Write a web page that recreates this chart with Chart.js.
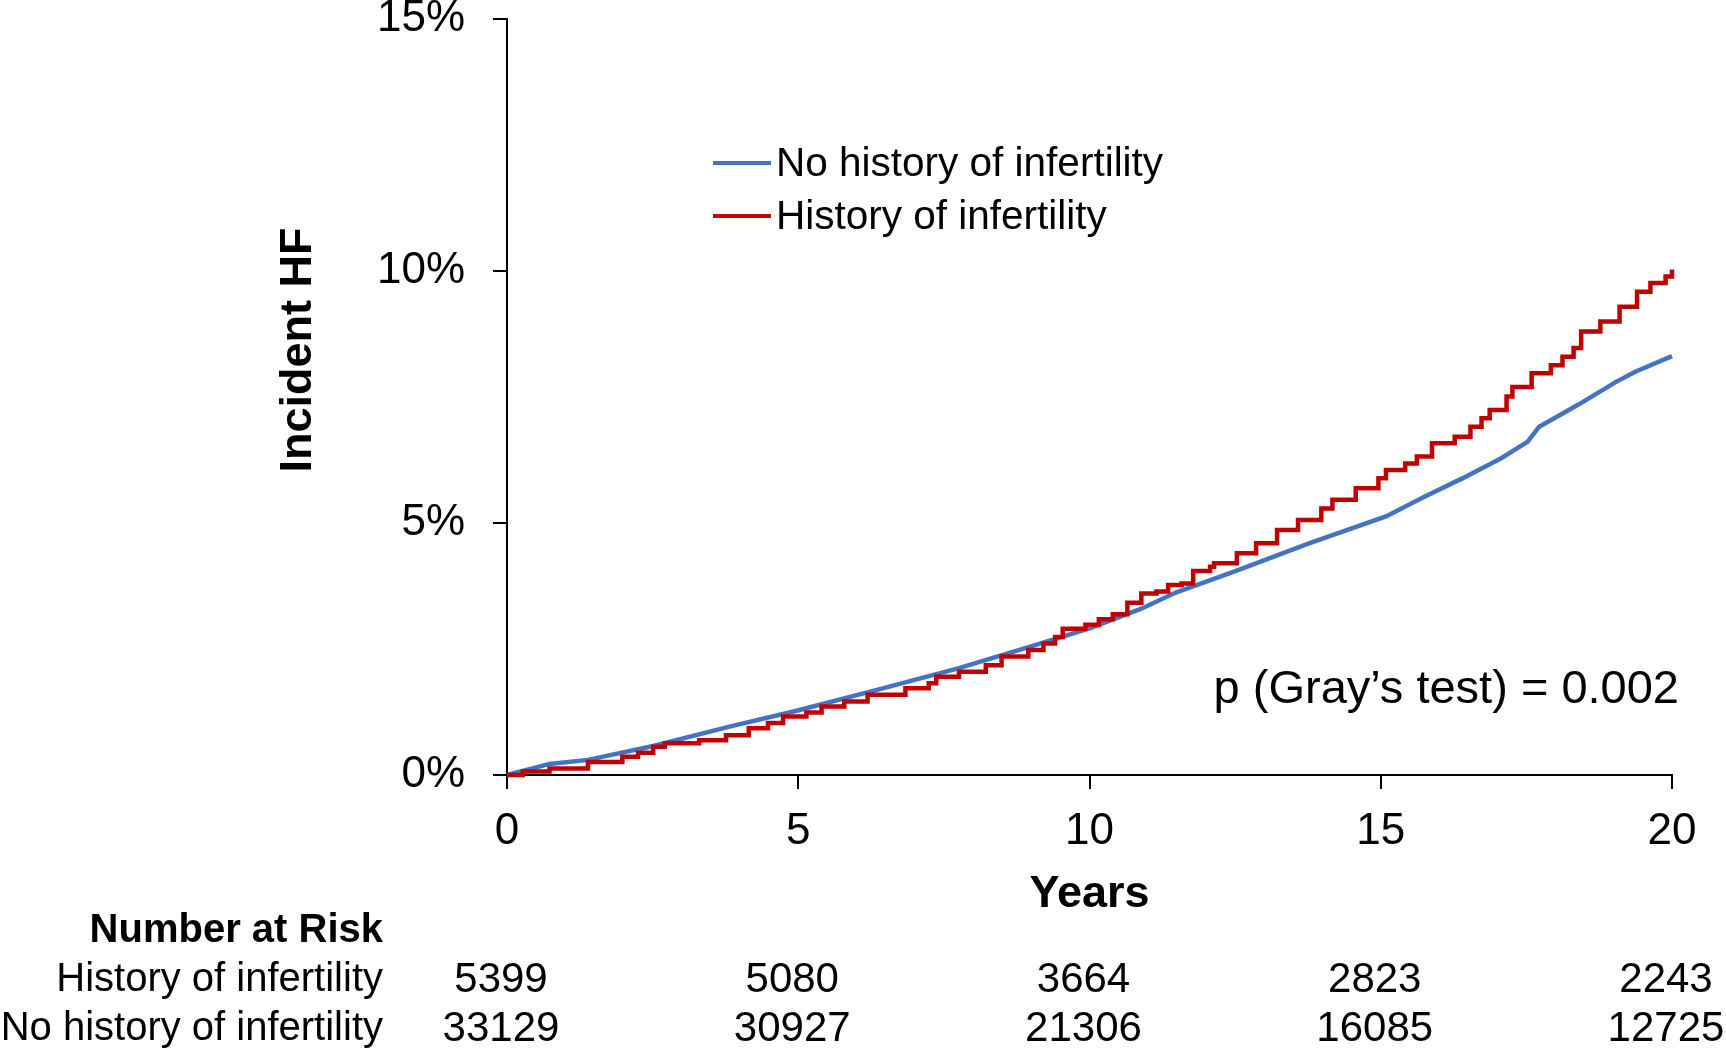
<!DOCTYPE html>
<html>
<head>
<meta charset="utf-8">
<script src="https://cdn.jsdelivr.net/npm/chart.js@4.4.1/dist/chart.umd.min.js"></script>
<style>
  html, body { margin: 0; padding: 0; background: #fff; }
  #wrap { width: 1726px; height: 1049px; }
</style>
</head>
<body>
<div id="wrap"><canvas id="hf-chart" width="1726" height="1049"></canvas></div>
<script>
// cumulative incidence of HF
const noHistYears = [0, 0.73, 1.39, 2.51, 3.82, 4.99, 6.45, 7.76, 9.08, 10.0, 10.89, 11.48, 12.47, 13.78, 15.09, 15.75, 16.41, 17.06, 17.52, 17.72, 18.38, 19.04, 19.37, 20];
const noHistValues = [0, 0.22, 0.30, 0.575, 0.96, 1.28, 1.72, 2.12, 2.58, 2.91, 3.30, 3.62, 4.03, 4.60, 5.13, 5.52, 5.89, 6.28, 6.61, 6.91, 7.34, 7.80, 8.00, 8.31];

const histYears = [0, 0.27, 0.73, 1.39, 1.98, 2.25, 2.51, 2.71, 3.30, 3.76, 4.15, 4.48, 4.74, 5.14, 5.40, 5.79, 6.19, 6.84, 7.24, 7.37, 7.76, 8.22, 8.49, 8.95, 9.21, 9.41, 9.54, 9.93, 10.16, 10.40, 10.65, 10.89, 11.15, 11.35, 11.58, 11.78, 12.07, 12.14, 12.53, 12.86, 13.22, 13.58, 13.98, 14.17, 14.57, 14.96, 15.09, 15.42, 15.62, 15.88, 16.27, 16.54, 16.73, 16.87, 17.16, 17.26, 17.59, 17.92, 18.12, 18.31, 18.44, 18.77, 19.10, 19.40, 19.63, 19.89, 20];
const histValues = [0, 0.07, 0.13, 0.26, 0.36, 0.44, 0.56, 0.63, 0.69, 0.79, 0.93, 1.03, 1.16, 1.24, 1.36, 1.46, 1.59, 1.72, 1.82, 1.95, 2.05, 2.18, 2.35, 2.48, 2.61, 2.74, 2.90, 2.98, 3.09, 3.19, 3.42, 3.60, 3.64, 3.77, 3.80, 4.05, 4.13, 4.20, 4.40, 4.60, 4.86, 5.06, 5.29, 5.46, 5.69, 5.89, 6.05, 6.18, 6.32, 6.58, 6.71, 6.91, 7.08, 7.24, 7.51, 7.70, 7.97, 8.13, 8.30, 8.47, 8.80, 9.00, 9.29, 9.59, 9.76, 9.89, 10.03];

// number at risk table
const riskYears = [0, 5, 10, 15, 20];
const riskHist = [5399, 5080, 3664, 2823, 2243];
const riskNoHist = [33129, 30927, 21306, 16085, 12725];

const FONT = '"Liberation Sans", Arial, sans-serif';
const BLUE = '#4472C4';
const RED = '#C00000';

const toPoints = (xs, ys) => xs.map((x, i) => ({ x: x, y: ys[i] }));

const extrasPlugin = {
  id: 'extras',
  afterDraw(chart) {
    const ctx = chart.ctx;
    const xScale = chart.scales.x;
    ctx.save();
    ctx.fillStyle = '#000';

    // y axis title
    ctx.save();
    ctx.translate(299, 350);
    ctx.rotate(-Math.PI / 2);
    ctx.font = 'bold 45px ' + FONT;
    ctx.textAlign = 'center';
    ctx.textBaseline = 'middle';
    ctx.fillText('Incident HF', 0, 0);
    ctx.restore();

    // legend
    const legendItems = [
      { label: 'No history of infertility', color: BLUE, y: 163 },
      { label: 'History of infertility', color: RED, y: 216 }
    ];
    ctx.font = '40.5px ' + FONT;
    ctx.textAlign = 'left';
    ctx.textBaseline = 'middle';
    legendItems.forEach(item => {
      ctx.strokeStyle = item.color;
      ctx.lineWidth = 4;
      ctx.beginPath();
      ctx.moveTo(713, item.y);
      ctx.lineTo(771, item.y);
      ctx.stroke();
      ctx.fillStyle = '#000';
      ctx.fillText(item.label, 776, item.y + 2);
    });

    // p value
    ctx.font = '47px ' + FONT;
    ctx.textAlign = 'right';
    ctx.fillText('p (Gray\u2019s test) = 0.002', 1679, 690);

    // number at risk
    ctx.font = 'bold 40px ' + FONT;
    ctx.fillText('Number at Risk', 383, 931);
    ctx.font = '40px ' + FONT;
    ctx.fillText('History of infertility', 383, 980);
    ctx.fillText('No history of infertility', 383, 1029);
    ctx.font = '42px ' + FONT;
    ctx.textAlign = 'center';
    riskYears.forEach((yr, i) => {
      const px = xScale.getPixelForValue(yr) - 6;
      ctx.fillText(String(riskHist[i]), px, 980);
      ctx.fillText(String(riskNoHist[i]), px, 1029);
    });
    ctx.restore();
  }
};

const axisGrid = {
  drawOnChartArea: false,
  drawTicks: true,
  tickLength: 14,
  color: '#000',
  lineWidth: 2
};

new Chart(document.getElementById('hf-chart').getContext('2d'), {
  type: 'line',
  data: {
    datasets: [
      {
        label: 'History of infertility',
        data: toPoints(histYears, histValues),
        borderColor: RED,
        borderWidth: 4.5,
        stepped: true,
        pointRadius: 0,
        fill: false,
        clip: 6
      },
      {
        label: 'No history of infertility',
        data: toPoints(noHistYears, noHistValues),
        borderColor: BLUE,
        borderWidth: 4.5,
        tension: 0,
        pointRadius: 0,
        fill: false,
        clip: 6
      }
    ]
  },
  options: {
    responsive: false,
    animation: false,
    devicePixelRatio: 1,
    layout: { padding: { left: 0, top: 19, right: 54, bottom: 127 } },
    plugins: {
      legend: { display: false },
      tooltip: { enabled: false }
    },
    scales: {
      x: {
        type: 'linear',
        min: 0,
        max: 20,
        ticks: {
          stepSize: 5,
          color: '#000',
          padding: 16,
          font: { family: FONT, size: 44 },
          maxRotation: 0
        },
        grid: axisGrid,
        border: { display: true, color: '#000', width: 2 },
        title: {
          display: true,
          text: 'Years',
          color: '#000',
          font: { family: FONT, size: 45, weight: 'bold' },
          padding: { top: 0, bottom: 0 }
        },
        afterFit(scale) {
          scale.height = 147;
          scale.paddingLeft = 0;
          scale.paddingRight = 0;
        }
      },
      y: {
        min: 0,
        max: 15,
        ticks: {
          stepSize: 5,
          color: '#000',
          padding: 28,
          font: { family: FONT, size: 44 },
          callback: v => v + '%'
        },
        grid: axisGrid,
        border: { display: true, color: '#000', width: 2 },
        afterFit(scale) {
          scale.width = 507;
          scale.paddingTop = 0;
          scale.paddingBottom = 0;
        }
      }
    }
  },
  plugins: [extrasPlugin]
});
</script>
</body>
</html>
